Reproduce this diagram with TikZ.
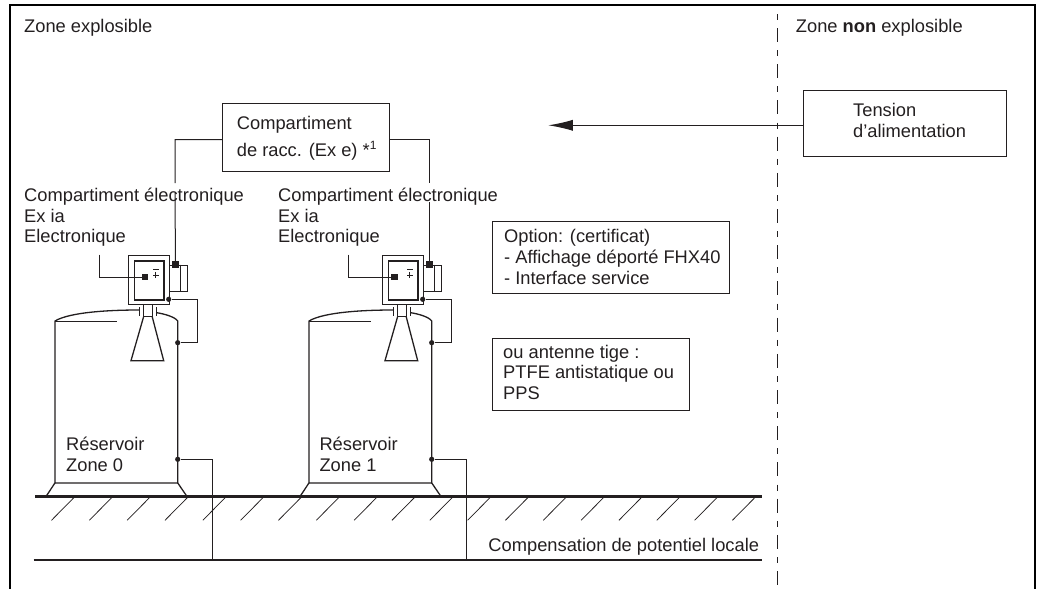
\documentclass[tikz,border=0pt]{standalone}
\usepackage{fontspec}
\setmainfont{Liberation Sans}
\usetikzlibrary{arrows.meta}
\definecolor{ink}{HTML}{231F20}
\tikzset{
  wire/.style={draw=ink,line width=1pt},
  heavy/.style={draw=ink,line width=1.3pt},
  thick rule/.style={draw=ink,line width=2.8pt},
  hatchline/.style={draw=ink,line width=0.75pt},
  label/.style={anchor=base west,inner sep=0pt,text=ink,font=\fontsize{18.3}{20}\selectfont},
  boxnode/.style={draw=ink,line width=1.2pt,inner sep=0pt,rectangle,anchor=north west},
  blacksq/.style={fill=ink,inner sep=0pt,minimum size=6.2pt,rectangle},
  blackdot/.style={fill=ink,inner sep=0pt,minimum size=5.2pt,circle},
}
% #1 x offset, #2 name prefix, #3 offset of the black square relative to the device
\newcommand\tankdevice[3]{%
 \begin{scope}[shift={(#1,0)}]
  \node[boxnode,minimum width=41.3pt,minimum height=49.3pt] (#2outer) at (127.7,254.7) {};
  \node[boxnode,minimum width=29.6pt,minimum height=39pt] (#2inner) at (133.7,260.3) {};
  \node[boxnode,minimum width=18pt,minimum height=26.3pt] (#2side) at (169,264.7) {};
  \draw[wire] (180.5,264.7) -- (180.5,291);
  \node[blacksq] (#2sq) at (145+#3,277.3) {};
  \coordinate (#2lead) at (99.3+#3,254.7);
  \draw[wire] (#2lead) |- (#2sq);
  \node[blacksq] (#2top) at (175.5,264.5) {};
  \draw[wire] (153,269.3) -- (158.6,269.3);
  \draw[wire] (153,275) -- (158.6,275) (155.8,271.8) -- (155.8,278.3);
  \node[blackdot] (#2d1) at (168.7,299.3) {};
  \node[blackdot] (#2d2) at (177.7,342.7) {};
  \node[blackdot] (#2d3) at (177.7,459.3) {};
  \coordinate (#2corner) at (197.3,299.3);
  \draw[wire] (#2d1) -- (#2corner) |- (#2d2);
  % neck, flange and horn
  \draw[wire] (143.6,304) -- (143.6,316.7) -- (152.2,316.7) -- (152.2,304);
  \draw[wire] (139.3,307.3) -- (139.3,316.3) (156.7,307.3) -- (156.7,316.3);
  \draw[heavy] (143.6,316.7) -- (131,360.7) -- (163.7,360.7) -- (152.2,316.7);
  % tank
  \draw[heavy] (139.3,310) .. controls (110,310) and (70,312) .. (55,321) -- (55,482.9) -- (177.7,482.9) -- (177.7,321) .. controls (175,317) and (165,314) .. (156.7,312.7);
  \draw[wire] (55,321) -- (116.7,321);
  \draw[heavy] (55,482.9) -- (46,496.5) (177.7,482.9) -- (187,496.5);
 \end{scope}}
\begin{document}
\begin{tikzpicture}[x=1pt,y=-1pt]
\useasboundingbox (0,0) rectangle (1037,589);
% frame
\coordinate (fa) at (10,589); \coordinate (fb) at (10,5);
\coordinate (fc) at (1035,5); \coordinate (fd) at (1035,589);
\draw[draw=black,line width=1.7pt] (fa) -- (fb) -- (fc) -- (fd);
% zone separator
\coordinate (za) at (777,14); \coordinate (zb) at (777,589);
\draw[draw=ink,line width=1pt,dash pattern=on 6pt off 8pt on 14pt off 8.2pt] (za) -- (zb);
% ground and equipotential rules
\coordinate (ga) at (35,496.7); \coordinate (gb) at (761.7,496.7);
\draw[thick rule] (ga) -- (gb);
\coordinate (ea) at (33.5,560); \coordinate (eb) at (761.7,560);
\draw[thick rule] (ea) -- (eb);
\foreach \i in {0,...,18} \draw[hatchline] ({74+37.83*\i},497.5) -- ({51.5+37.83*\i},520.3);
% devices
\tankdevice{0}{a}{0}
\tankdevice{254}{b}{-4.5}
% boxes
\node[boxnode,minimum width=167pt,minimum height=68pt] (raccbox) at (222,103) {};
\node[boxnode,minimum width=203pt,minimum height=66pt] (tension) at (803,90) {};
\node[boxnode,minimum width=237pt,minimum height=72pt] (option) at (492,220.7) {};
\node[boxnode,minimum width=197pt,minimum height=72pt] (tige) at (492,338.2) {};
% connectors
\coordinate (la) at (175,139.5); \coordinate (lb) at (175,183); \coordinate (lc) at (175,193);
\coordinate (ra) at (429.5,139.5); \coordinate (rb) at (429.5,183); \coordinate (rc) at (429.5,202);
\draw[wire] (raccbox.west |- la) -- (la) -- (lb) (lc) -- (atop);
\draw[wire] (raccbox.east |- ra) -- (ra) -- (rb) (rc) -- (btop);
\coordinate (arrowend) at (548.3,125.3);
\draw[wire,-{Latex[length=24.5pt,width=11pt]}] (tension.west |- arrowend) -- (arrowend);
\coordinate (ga0) at (212,459.3); \coordinate (ga1) at (212,560);
\coordinate (gb0) at (466,459.3); \coordinate (gb1) at (466,560);
\draw[wire] (ad3) -- (ga0) -- (ga1);
\draw[wire] (bd3) -- (gb0) -- (gb1);
% texts
\node[label] (t1) at (24,32) {Zone explosible};
\node[label] (t2) at (795.7,32) {Zone \textbf{non} explosible};
\node[label] (t3) at (853,116.7) {Tension};
\node[label] (t4) at (853,137.7) {d’alimentation};
\node[label] (t5) at (236.7,129.3) {Compartiment};
\node[label] (t6) at (236.7,156) {de racc. (Ex e) *\raisebox{7pt}{\fontsize{12}{12}\selectfont 1}};
\node[label] (t7) at (24,201.7) {Compartiment électronique};
\node[label] (t8) at (24,222.7) {Ex ia};
\node[label] (t9) at (24,242.7) {Electronique};
\node[label] (t10) at (278,201.7) {Compartiment électronique};
\node[label] (t11) at (278,222.7) {Ex ia};
\node[label] (t12) at (278,242.7) {Electronique};
\node[label] (t13) at (504,242.7) {Option: (certificat)};
\node[label] (t14) at (504,263.3) {- Affichage déporté FHX40};
\node[label] (t15) at (504,284) {- Interface service};
\node[label] (t16) at (503,358.3) {ou antenne tige :};
\node[label] (t17) at (503,378.3) {PTFE antistatique ou};
\node[label] (t18) at (503,399.3) {PPS};
\node[label] (t19) at (66,450) {Réservoir};
\node[label] (t20) at (66,471) {Zone 0};
\node[label] (t21) at (319.3,450) {Réservoir};
\node[label] (t22) at (319.3,471) {Zone 1};
\node[label,anchor=base east] (t23) at (759.3,551.7) {Compensation de potentiel locale};
\end{tikzpicture}
\end{document}
